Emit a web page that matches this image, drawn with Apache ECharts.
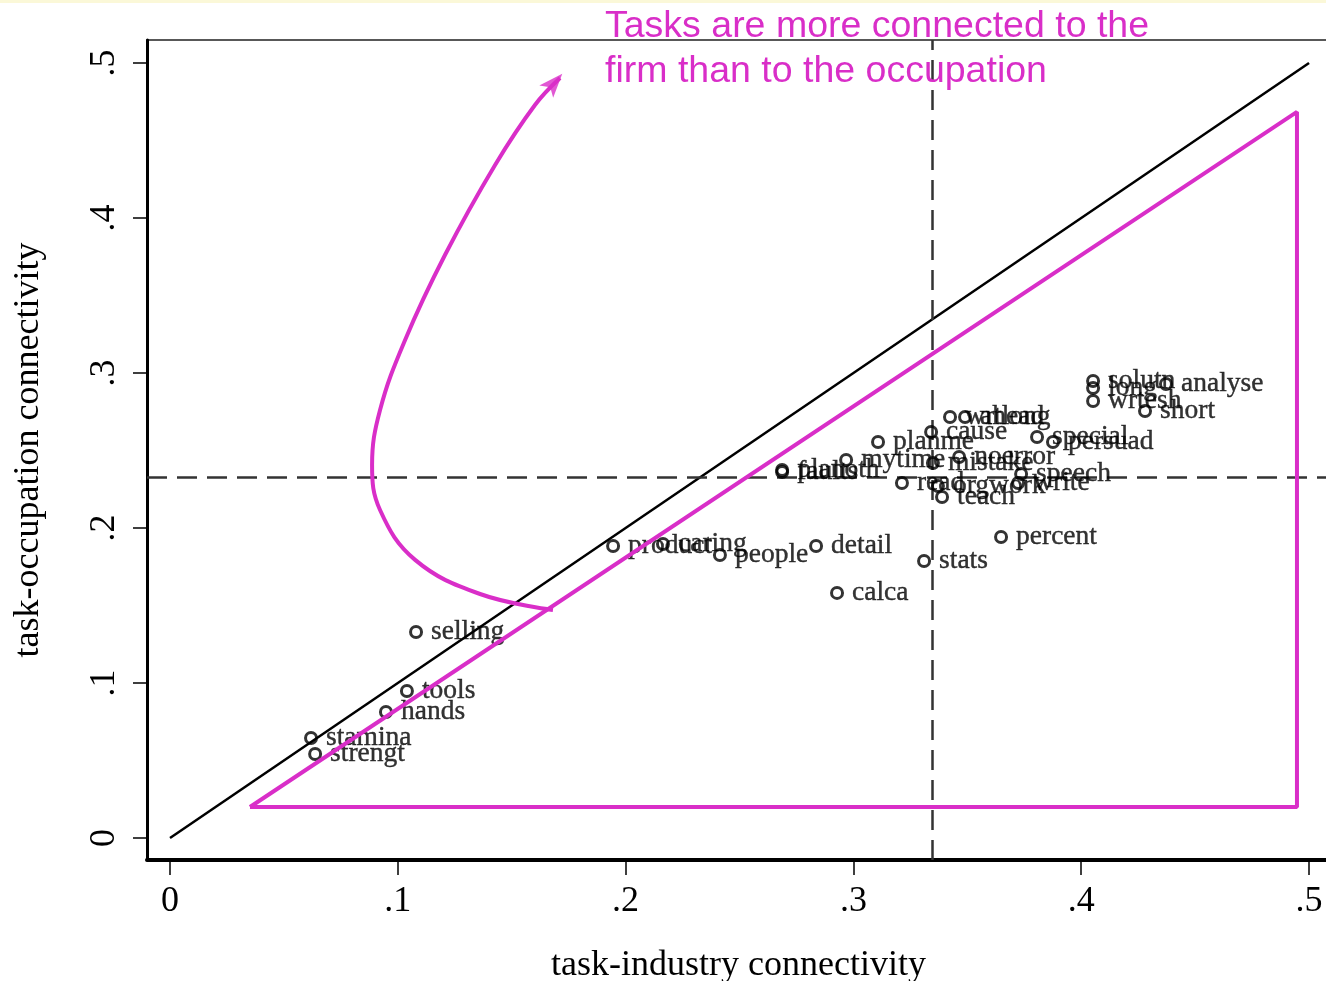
<!DOCTYPE html>
<html>
<head>
<meta charset="utf-8">
<script src="https://cdn.jsdelivr.net/npm/echarts@6/dist/echarts.min.js"></script>
<style>
  html, body { margin: 0; padding: 0; background: #fff; }
  #chart { width: 1326px; height: 981px; }
</style>
</head>
<body>
<div id="chart"></div>
<script>
// Task connectivity: industry (x) vs occupation (y)
const taskNames = ['stamina','strengt','hands','tools','selling','product','caring','people','detail','calca',
  'stats','percent','planoth','faults','mytime','planme','read','cause','wrtlong','ahead',
  'mistake','noerror','orgwork','teach','speech','write','special','persuad','solutn','long',
  'wrtesh','analyse','short'];
const industryConn = [0.0619,0.0637,0.0948,0.1040,0.1080,0.1945,0.2164,0.2414,0.2836,0.2928,
  0.3310,0.3648,0.2687,0.2687,0.2968,0.3108,0.3213,0.3341,0.3424,0.3490,
  0.3349,0.3464,0.3371,0.3389,0.3736,0.3723,0.3806,0.3876,0.4052,0.4052,
  0.4052,0.4372,0.4280];
const occupationConn = [0.0645,0.0542,0.0813,0.0948,0.1329,0.1884,0.1897,0.1826,0.1884,0.1581,
  0.1787,0.1942,0.2374,0.2361,0.2439,0.2555,0.2290,0.2619,0.2716,0.2716,
  0.2419,0.2458,0.2271,0.2200,0.2348,0.2290,0.2587,0.2555,0.2948,0.2903,
  0.2819,0.2929,0.2755];

// reference lines
const meanIndustry = 0.3345;
const meanOccupation = 0.233;
const diagonal = [[0, 0], [0.5, 0.5]];

// highlighted region and arrow
const regionX = [0.0351, 0.4947, 0.4947, 0.0351];
const regionY = [0.020, 0.020, 0.4684, 0.020];
const arrowX = [0.1681,0.1361,0.1076,0.0922,0.0887,0.0922,0.1032,0.1207,0.1427,0.1602,0.1712];
const arrowY = [0.1471,0.1574,0.1794,0.2116,0.2406,0.2761,0.3213,0.3761,0.4342,0.4729,0.4903];
const arrowHead = [0.1722, 0.4930];

const tickValues = [0, 0.1, 0.2, 0.3, 0.4, 0.5];
const tickLabels = ['0', '.1', '.2', '.3', '.4', '.5'];

const MAGENTA = '#d92ec8';
const SERIF = '"Liberation Serif", "Times New Roman", serif';

const fmt = v => {
  const i = tickValues.findIndex(t => Math.abs(t - v) < 1e-9);
  return i >= 0 ? tickLabels[i] : '';
};

const points = taskNames.map((n, i) => ({ name: n, value: [industryConn[i], occupationConn[i]] }));

const chart = echarts.init(document.getElementById('chart'), null, { renderer: 'canvas' });
chart.setOption({
  animation: false,
  backgroundColor: '#fff',
  grid: {
    left: 147, top: 40, right: -4, bottom: 121, show: true,
    borderColor: '#222', borderWidth: 1.5,
    containLabel: false, outerBoundsMode: 'none'
  },
  xAxis: {
    type: 'value', min: -0.0101, max: 0.5092,
    name: 'task-industry connectivity', nameLocation: 'middle', nameGap: 88,
    nameTextStyle: { fontFamily: SERIF, fontSize: 36, color: '#000' },
    axisLine: { show: true, onZero: false, lineStyle: { color: '#000', width: 4 } },
    axisTick: { show: true, length: 15, lineStyle: { color: '#000', width: 1.5 }, customValues: tickValues },
    axisLabel: { customValues: tickValues, formatter: fmt, fontFamily: SERIF, fontSize: 36, color: '#000', margin: 24 },
    splitLine: { show: false }
  },
  yAxis: {
    type: 'value', min: -0.0142, max: 0.5148,
    name: 'task-occupation connectivity', nameLocation: 'middle', nameGap: 100,
    nameTextStyle: { fontFamily: SERIF, fontSize: 36, color: '#000' },
    axisLine: { show: true, onZero: false, lineStyle: { color: '#000', width: 3 } },
    axisTick: { show: true, length: 14, lineStyle: { color: '#000', width: 1.5 }, customValues: tickValues },
    axisLabel: { customValues: tickValues, formatter: fmt, rotate: 90, fontFamily: SERIF, fontSize: 36, color: '#000', margin: 24 },
    splitLine: { show: false }
  },
  graphic: [
    { type: 'rect', left: 0, top: 0, shape: { width: 1326, height: 3 }, style: { fill: '#fbf8d8' }, silent: true },
    {
      type: 'text', left: 605, top: 4, z: 100,
      style: {
        text: 'Tasks are more connected to the\nfirm than to the occupation',
        font: '37.5px "Liberation Sans", Arial, sans-serif', fill: MAGENTA, lineHeight: 45
      }
    }
  ],
  series: [
    {
      type: 'line', data: diagonal, symbol: 'none', silent: true, z: 2,
      lineStyle: { color: '#000', width: 2.5 },
      markLine: {
        silent: true, symbol: 'none', precision: 4, label: { show: false },
        lineStyle: { color: '#333', width: 2.5, type: [20, 10] },
        data: [{ xAxis: meanIndustry }, { yAxis: meanOccupation }]
      }
    },
    {
      type: 'scatter', data: points, symbol: 'circle', symbolSize: 11, z: 5,
      itemStyle: { color: 'rgba(255,255,255,0)', borderColor: '#000', borderWidth: 3 },
      label: {
        show: true, position: 'right', distance: 8, offset: [0, 5],
        formatter: p => p.name, fontFamily: SERIF, fontSize: 27.5, color: '#000',
        textBorderColor: '#000', textBorderWidth: 0.4
      },
      labelLayout: { hideOverlap: false }
    },
    {
      type: 'line', data: regionX.map((x, i) => [x, regionY[i]]), symbol: 'none', silent: true, z: 10,
      lineStyle: { color: MAGENTA, width: 4 }
    },
    {
      type: 'line', data: arrowX.map((x, i) => [x, arrowY[i]]), symbol: 'none', smooth: 0.4, silent: true, z: 10,
      lineStyle: { color: MAGENTA, width: 4 }
    },
    {
      type: 'scatter', data: [arrowHead], symbol: 'arrow', symbolSize: [14, 24], symbolRotate: -42, silent: true, z: 11,
      itemStyle: { color: MAGENTA }
    }
  ]
});
</script>
</body>
</html>
